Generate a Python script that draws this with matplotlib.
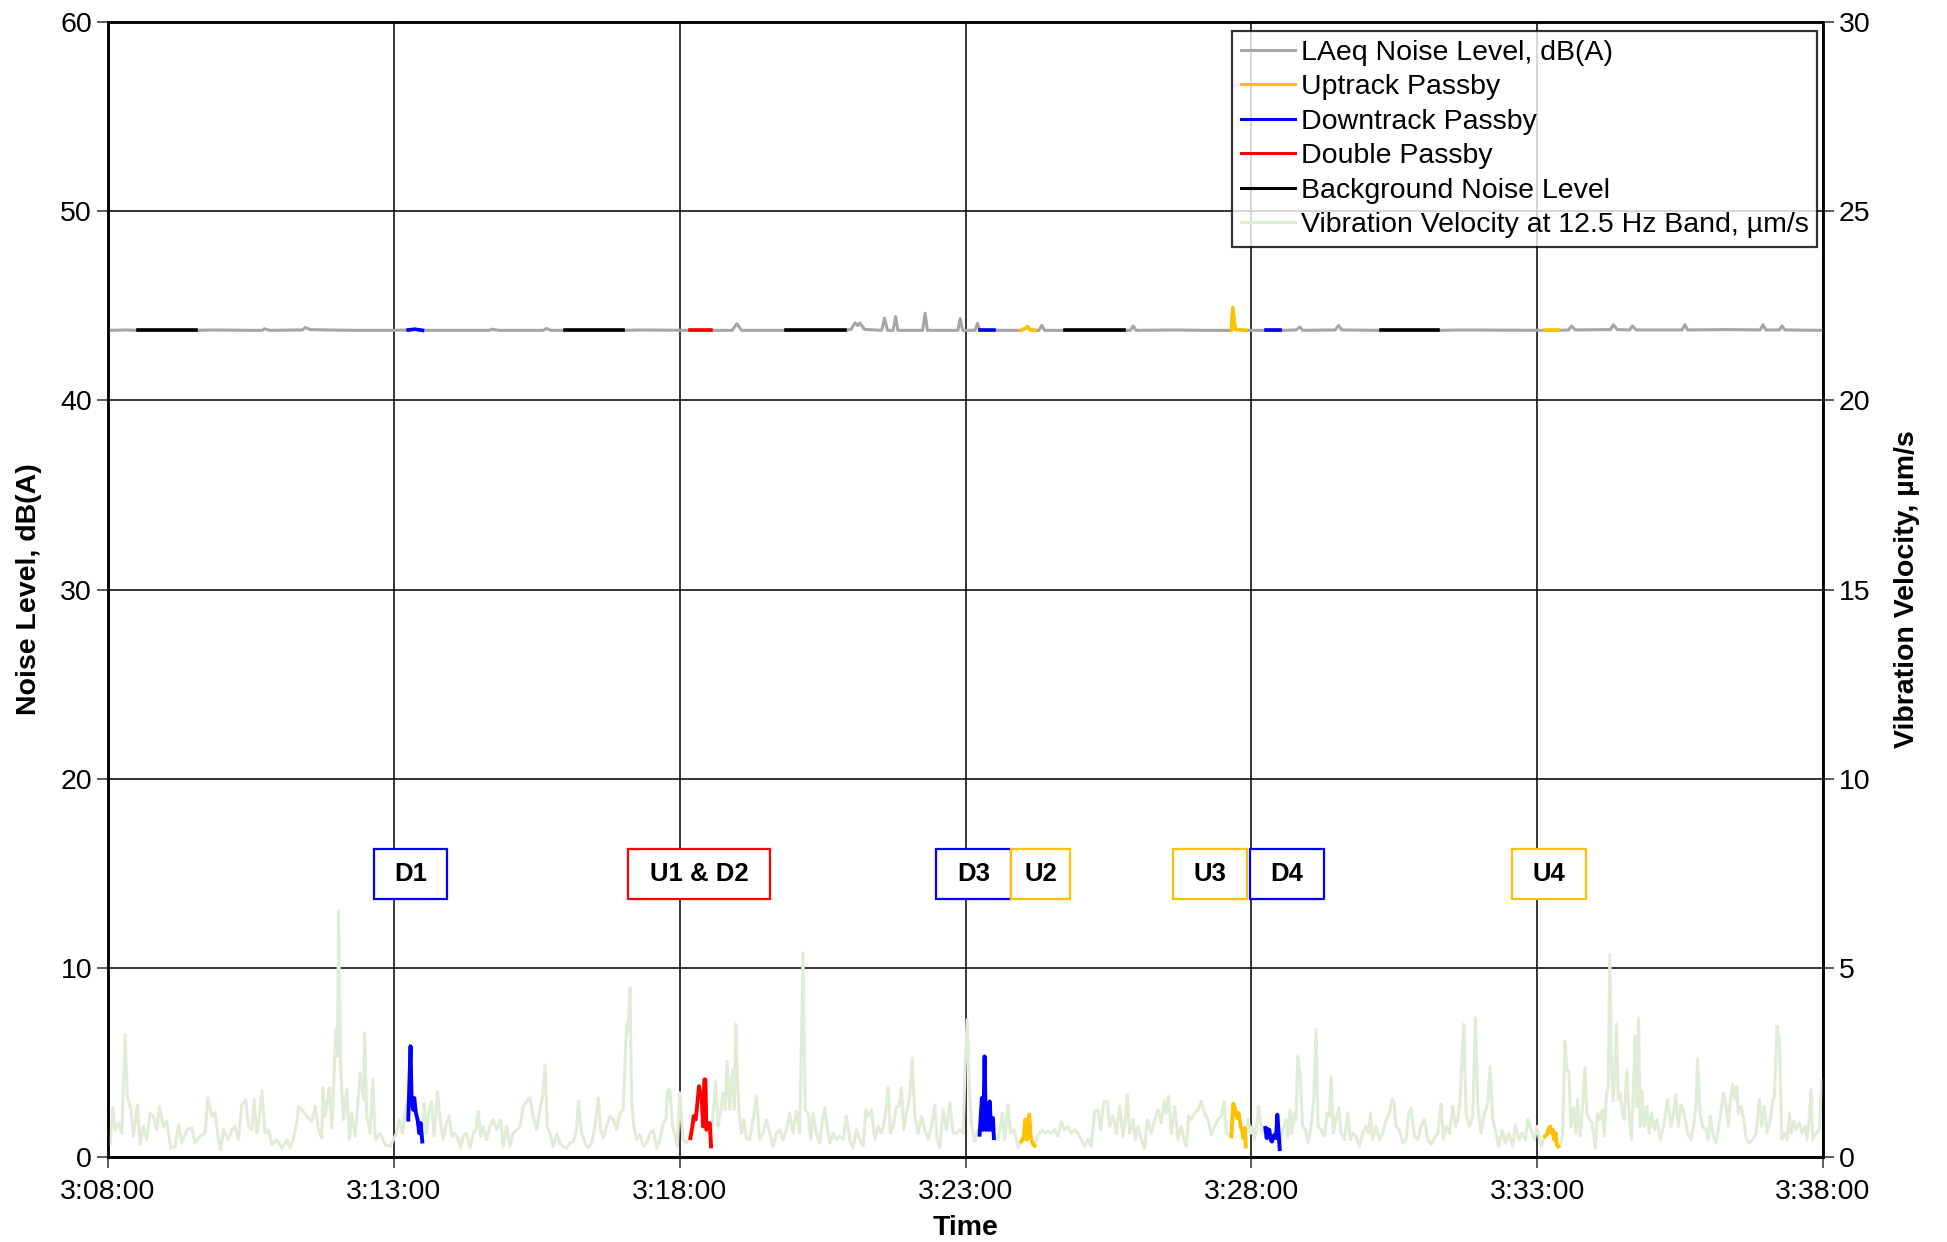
import numpy as np
import matplotlib.pyplot as plt
from matplotlib.patches import Rectangle
from matplotlib.lines import Line2D
from matplotlib.ticker import FuncFormatter, MultipleLocator

plt.rcParams['font.family'] = ['Liberation Sans', 'DejaVu Sans']

# time is in seconds after 3:08:00
START = 3 * 3600 + 8 * 60

# LAeq noise level, dB(A): (sec, dB)
noise_pts = [
    (0, 43.7), (20, 43.72), (31, 43.7), (92, 43.7), (110, 43.72), (150, 43.7), (162, 43.7),
    (164, 43.78), (170, 43.7), (200, 43.72), (204, 43.72), (207, 43.85), (212, 43.74), (230, 43.72),
    (260, 43.7), (300, 43.7), (315, 43.72), (322, 43.76), (330, 43.7), (380, 43.7), (400, 43.7),
    (403, 43.76), (410, 43.7), (457, 43.7), (460, 43.8), (465, 43.7), (480, 43.7), (541, 43.7),
    (560, 43.72), (611, 43.7), (633, 43.7), (655, 43.7), (660, 44.05), (665, 43.7), (712, 43.7),
    (773, 43.7), (780, 43.75), (784, 44.1), (787, 43.95), (789, 44.1), (794, 43.75), (812, 43.7),
    (815, 44.34), (818, 43.7), (824, 43.7), (826.6, 44.43), (829, 43.7), (855, 43.7), (857.6, 44.6),
    (860, 43.7), (892, 43.7), (894.4, 44.32), (897, 43.7), (910, 43.7), (912.6, 44.07), (915, 43.7),
    (930, 43.7), (958, 43.7), (963, 43.8), (965, 43.9), (968, 43.72), (973, 43.7), (977, 43.7),
    (980, 43.96), (983, 43.7), (1004, 43.7), (1066, 43.7), (1073, 43.7), (1076, 43.93), (1079, 43.7),
    (1120, 43.72), (1150, 43.7), (1179, 43.7), (1180.5, 44.9), (1183, 43.75), (1194, 43.7),
    (1215, 43.7), (1230, 43.7), (1247, 43.72), (1250.8, 43.88), (1254, 43.7), (1288, 43.72),
    (1291.6, 43.96), (1295, 43.72), (1336, 43.7), (1396, 43.7), (1420, 43.72), (1508, 43.7),
    (1522, 43.7), (1533, 43.72), (1536, 43.93), (1540, 43.72), (1577, 43.74), (1580, 44.0),
    (1584, 43.74), (1597, 43.72), (1600, 43.93), (1604, 43.72), (1652, 43.72), (1655, 44.0),
    (1658, 43.72), (1700, 43.74), (1734, 43.72), (1737, 44.0), (1740, 43.72), (1754, 43.72),
    (1757, 43.93), (1760, 43.72), (1800, 43.7),
]

# vibration velocity at 12.5 Hz band, um/s: (sec, value), one list per 5 minutes
vib_0308 = [
    (0, 0.33), (2.1, 0.33), (4.9, 1.30), (7.4, 0.72), (10.9, 0.90), (14.4, 0.63), (17.9, 3.24),
    (20.3, 1.60), (23.8, 1.30), (26.6, 0.55), (30.8, 1.38), (33.6, 0.33), (37.1, 0.81), (40.6, 0.46),
    (44.1, 1.16), (47.6, 1.08), (51.1, 0.72), (53.9, 1.34), (58.1, 0.81), (61.6, 0.94), (65.8, 0.24),
    (70.4, 0.28), (73.9, 0.86), (77.4, 0.37), (82.6, 0.72), (87.9, 0.77), (91.4, 0.37), (96.6, 0.55),
    (101.9, 0.63), (104.7, 1.56), (108.9, 1.08), (112.4, 1.16), (115.9, 0.46), (118.3, 0.19),
    (121.1, 0.72), (126.4, 0.46), (129.9, 0.72), (133.4, 0.81), (136.9, 0.46), (140.4, 1.38),
    (144.6, 1.52), (147.4, 0.81), (150.9, 0.72), (153.3, 1.52), (156.1, 0.63), (158.9, 1.08),
    (161.4, 1.76), (164.9, 0.63), (168.4, 0.72), (171.9, 0.33), (177.1, 0.46), (182.4, 0.24),
    (187.6, 0.46), (191.1, 0.24), (194.6, 0.50), (198.1, 0.90), (199.9, 1.34), (203.4, 1.25),
    (208.6, 1.08), (213.9, 0.94), (217.4, 1.34), (220.9, 0.72), (224.4, 0.50), (225.4, 1.83),
    (227.9, 1.08), (232.1, 1.83), (234.9, 0.77), (239.1, 3.37), (240.8, 2.66), (241.9, 6.50),
    (244.3, 2.22), (247.1, 0.99), (250.6, 1.78), (253.4, 0.46), (255.9, 1.16), (259.4, 0.55),
    (264.6, 2.22), (268.1, 1.52), (269.2, 3.28), (271.6, 1.08), (275.1, 0.63), (277.9, 2.05),
    (280.4, 0.46), (285.6, 0.63), (290.9, 0.33), (296.1, 0.28), (299.6, 0.46),
]
vib_0313 = [
    (302.8, 0.63), (305.6, 0.99), (309.1, 0.63), (313.3, 1.38), (315.1, 0.99), (317.5, 2.93),
    (318.6, 1.52), (320.3, 1.25), (321.4, 1.56), (323.1, 1.16), (324.9, 0.99), (326.6, 0.63),
    (328.0, 0.90), (329.8, 0.41), (331.9, 1.43), (334.3, 0.63), (336.8, 1.25), (339.6, 1.47),
    (342.0, 0.55), (345.9, 1.74), (348.3, 0.99), (351.8, 0.46), (354.6, 0.86), (358.1, 1.08),
    (360.9, 0.55), (364.1, 0.63), (367.6, 0.46), (370.0, 0.24), (372.8, 0.55), (376.3, 0.63),
    (379.8, 0.24), (383.3, 0.63), (386.1, 0.72), (388.6, 1.21), (391.0, 0.55), (393.8, 0.81),
    (397.3, 0.46), (400.8, 0.81), (404.3, 0.99), (407.8, 0.72), (412.0, 0.99), (414.8, 0.28),
    (418.3, 0.81), (421.8, 0.28), (425.3, 0.63), (429.5, 0.72), (432.3, 0.81), (435.8, 1.34),
    (439.3, 1.47), (442.8, 1.56), (446.3, 1.08), (449.8, 0.72), (453.3, 1.25), (456.1, 1.60),
    (458.6, 2.44), (461.0, 0.81), (463.8, 0.63), (467.3, 0.28), (470.8, 0.63), (474.3, 0.37),
    (477.8, 0.28), (481.3, 0.24), (484.8, 0.37), (488.3, 0.41), (491.8, 0.72), (493.6, 1.47),
    (497.1, 0.63), (500.6, 0.37), (504.1, 0.24), (507.6, 0.37), (511.1, 0.81), (514.6, 1.56),
    (517.0, 0.72), (519.8, 0.50), (523.3, 0.81), (526.8, 1.08), (530.3, 0.99), (533.8, 0.72),
    (537.3, 1.16), (540.8, 1.25), (544.3, 3.51), (545.7, 3.28), (547.8, 4.47), (549.6, 1.43),
    (552.0, 0.81), (554.8, 0.46), (558.3, 0.59), (561.8, 0.28), (565.3, 0.37), (568.8, 0.63),
    (572.3, 0.72), (575.8, 0.24), (579.3, 0.46), (582.8, 0.90), (585.6, 0.99), (587.4, 1.78),
    (589.8, 1.78), (592.6, 0.81), (595.1, 0.55), (597.5, 0.28),
]
vib_0318 = [
    (600.0, 1.70), (603.5, 0.46), (607.0, 0.37), (611.2, 0.50), (613.3, 0.81), (614.7, 1.08),
    (616.8, 0.99), (618.2, 1.34), (620.3, 1.87), (621.7, 1.69), (623.1, 1.60), (624.5, 0.81),
    (625.9, 2.05), (627.0, 2.05), (628.0, 0.72), (629.8, 0.81), (631.5, 0.90), (632.9, 0.28),
    (635.0, 1.16), (637.8, 1.99), (640.3, 0.81), (642.7, 1.16), (645.5, 1.69), (647.9, 1.25),
    (649.7, 2.53), (652.5, 1.25), (654.6, 2.05), (656.0, 2.31), (657.4, 1.25), (658.8, 3.51),
    (660.2, 2.31), (662.3, 1.16), (664.8, 0.63), (667.2, 0.99), (670.0, 0.50), (673.5, 0.46),
    (677.0, 0.99), (680.5, 1.60), (684.0, 0.46), (687.5, 0.63), (691.0, 0.99), (694.5, 0.63),
    (698.0, 0.28), (701.5, 0.63), (705.0, 0.72), (708.5, 0.46), (712.0, 0.72), (715.5, 1.16),
    (719.0, 0.63), (722.5, 1.21), (726.0, 0.63), (729.5, 5.40), (731.6, 1.25), (734.8, 1.16),
    (737.6, 0.46), (740.0, 1.16), (743.5, 0.63), (747.0, 0.37), (749.8, 0.99), (752.3, 1.30),
    (754.7, 0.81), (757.5, 0.37), (761.0, 0.63), (764.5, 0.46), (768.0, 0.55), (771.5, 0.46),
    (775.0, 1.08), (778.5, 0.46), (782.0, 0.24), (785.5, 0.72), (789.0, 0.46), (792.5, 0.28),
    (795.3, 1.25), (797.8, 1.08), (801.3, 1.25), (804.8, 0.46), (808.3, 0.81), (811.8, 0.63),
    (815.3, 0.99), (818.8, 1.83), (821.2, 0.63), (824.0, 0.81), (827.5, 1.34), (830.3, 1.34),
    (832.8, 1.83), (835.2, 0.72), (838.0, 1.16), (841.5, 1.60), (844.0, 2.62), (846.8, 1.08),
    (850.3, 0.63), (853.8, 1.08), (857.3, 0.72), (860.8, 0.46), (864.3, 0.81), (867.8, 1.38),
    (870.2, 0.46), (873.0, 0.24), (876.5, 1.25), (880.0, 0.72), (883.5, 1.43), (887.0, 0.63),
    (890.5, 0.63), (894.0, 0.72), (897.5, 0.63), (899.6, 2.40),
]
vib_0323 = [
    (901.7, 3.63), (904.3, 1.69), (906.0, 0.90), (909.5, 0.41), (913.0, 0.72), (914.8, 0.59),
    (917.2, 1.56), (918.6, 0.72), (920.0, 2.66), (921.4, 0.72), (922.8, 1.08), (924.2, 0.72),
    (925.3, 1.47), (927.0, 0.72), (928.8, 1.03), (929.8, 0.50), (934.0, 0.46), (936.8, 0.81),
    (938.6, 1.16), (941.0, 0.46), (944.5, 1.38), (947.3, 0.63), (950.8, 0.72), (953.3, 0.46),
    (955.0, 0.24), (958.5, 0.41), (961.3, 0.55), (962.7, 0.99), (964.1, 0.46), (965.5, 0.81),
    (966.9, 1.12), (968.3, 0.55), (970.1, 0.37), (972.5, 0.30), (975.3, 0.55), (977.8, 0.63),
    (980.2, 0.72), (983.0, 0.63), (986.5, 0.68), (990.0, 0.63), (993.5, 0.72), (997.0, 0.55),
    (1000.5, 0.94), (1004.0, 0.72), (1007.5, 0.81), (1011.0, 0.63), (1014.5, 0.72), (1018.0, 0.63),
    (1021.5, 0.46), (1025.0, 0.28), (1028.5, 0.46), (1032.0, 0.28), (1035.5, 1.21), (1039.0, 1.25),
    (1041.8, 0.72), (1045.3, 1.47), (1048.8, 1.47), (1051.3, 0.81), (1054.8, 1.08), (1058.3, 0.63),
    (1061.8, 1.34), (1065.3, 0.55), (1067.7, 0.99), (1069.8, 1.65), (1072.3, 0.63), (1075.8, 0.99),
    (1078.2, 0.46), (1081.0, 0.81), (1084.5, 0.46), (1088.0, 0.24), (1090.8, 0.99), (1095.0, 0.63),
    (1098.5, 0.99), (1102.0, 1.25), (1105.5, 0.90), (1108.3, 1.47), (1110.8, 1.16), (1113.2, 1.60),
    (1116.0, 0.63), (1119.5, 1.34), (1123.0, 0.46), (1126.5, 0.81), (1129.3, 0.46), (1131.8, 0.28),
    (1134.2, 1.08), (1137.0, 0.99), (1140.5, 1.16), (1144.0, 1.25), (1147.5, 1.47), (1151.0, 1.16),
    (1154.5, 0.99), (1158.0, 0.59), (1161.5, 0.81), (1165.0, 0.99), (1168.5, 1.08), (1171.3, 1.47),
    (1173.8, 0.63), (1179.0, 0.55), (1181.1, 1.41), (1183.2, 1.25), (1185.3, 1.03), (1186.7, 1.16),
    (1188.8, 0.81), (1190.2, 0.72), (1191.6, 0.50), (1193.0, 0.77), (1194.1, 0.28), (1196.5, 0.99),
    (1199.3, 0.63),
]
vib_0328 = [
    (1201.4, 0.81), (1203.2, 0.46), (1205.6, 0.81), (1207.7, 1.34), (1210.2, 0.81), (1211.9, 0.63),
    (1214.7, 0.77), (1216.1, 0.50), (1217.5, 0.74), (1218.9, 0.72), (1220.3, 0.46), (1221.7, 0.41),
    (1223.1, 0.55), (1224.5, 0.59), (1225.9, 0.50), (1227.3, 1.12), (1228.7, 0.63), (1229.8, 0.21),
    (1232.9, 0.72), (1236.4, 0.99), (1238.2, 0.50), (1240.6, 1.25), (1242.7, 0.63), (1245.2, 1.16),
    (1246.9, 0.99), (1248.7, 2.66), (1251.1, 2.22), (1253.9, 0.81), (1256.7, 0.72), (1259.5, 0.37),
    (1262.7, 0.81), (1265.5, 1.52), (1267.9, 3.37), (1270.0, 0.81), (1273.2, 0.72), (1276.7, 0.55),
    (1279.5, 1.16), (1281.9, 1.08), (1283.7, 2.13), (1286.1, 0.63), (1288.9, 0.99), (1291.7, 1.30),
    (1294.2, 0.63), (1297.7, 0.46), (1301.2, 1.16), (1303.9, 0.46), (1307.1, 0.63), (1309.9, 0.55),
    (1313.4, 0.28), (1316.9, 0.63), (1320.4, 0.81), (1323.2, 0.63), (1325.0, 1.16), (1327.4, 0.46),
    (1330.9, 0.81), (1334.4, 0.46), (1337.9, 0.63), (1341.4, 0.99), (1344.9, 1.16), (1347.7, 1.52),
    (1349.8, 1.43), (1351.9, 0.81), (1355.4, 0.72), (1358.9, 0.37), (1362.4, 0.46), (1365.2, 1.16),
    (1367.7, 1.30), (1371.2, 0.55), (1374.7, 0.46), (1378.2, 0.81), (1381.7, 0.99), (1385.2, 0.46),
    (1388.7, 0.33), (1392.2, 0.50), (1395.7, 0.63), (1399.2, 1.41), (1401.6, 0.46), (1404.4, 0.81),
    (1407.9, 0.63), (1411.4, 1.34), (1414.2, 0.81), (1416.7, 0.99), (1419.1, 1.47), (1421.2, 2.66),
    (1423.0, 3.51), (1425.4, 1.16), (1428.9, 0.81), (1432.4, 1.08), (1435.2, 3.68), (1437.7, 1.34),
    (1441.2, 0.63), (1444.7, 1.16), (1448.2, 1.43), (1450.6, 2.40), (1453.4, 0.99), (1456.9, 0.63),
    (1459.7, 0.28), (1463.2, 0.72), (1466.7, 0.37), (1470.2, 0.63), (1474.4, 0.28), (1477.2, 0.86),
    (1480.7, 0.46), (1484.2, 0.63), (1487.7, 0.46), (1490.1, 0.99), (1493.6, 0.72), (1497.1, 0.46),
]
vib_0333 = [
    (1499.7, 0.81), (1502.2, 0.50), (1504.6, 0.28), (1506.7, 0.46), (1508.1, 0.55), (1510.2, 0.59),
    (1511.6, 0.72), (1513.7, 0.81), (1515.1, 0.63), (1516.5, 0.72), (1517.9, 0.46), (1519.3, 0.63),
    (1520.7, 0.33), (1522.1, 0.28), (1524.2, 0.28), (1526.7, 0.59), (1529.1, 3.06), (1531.2, 2.31),
    (1533.3, 2.27), (1535.4, 0.81), (1538.2, 1.30), (1540.7, 0.63), (1542.4, 1.52), (1545.2, 0.55),
    (1547.7, 1.34), (1550.1, 2.35), (1552.2, 1.16), (1554.6, 0.99), (1557.1, 0.94), (1559.2, 0.63),
    (1560.9, 0.24), (1563.4, 1.16), (1565.8, 0.99), (1568.6, 1.25), (1570.4, 0.55), (1572.8, 1.69),
    (1574.6, 1.87), (1576.3, 5.35), (1578.1, 2.40), (1579.8, 1.47), (1581.9, 2.47), (1583.3, 3.51),
    (1585.0, 1.52), (1587.1, 1.69), (1589.6, 1.16), (1591.3, 0.99), (1594.1, 2.31), (1596.6, 1.08),
    (1599.0, 0.46), (1601.1, 1.87), (1602.9, 3.19), (1604.6, 1.34), (1606.4, 3.68), (1608.1, 0.81),
    (1609.9, 1.74), (1612.4, 0.81), (1615.2, 1.34), (1617.6, 0.63), (1620.1, 1.16), (1622.9, 0.72),
    (1625.7, 0.99), (1629.2, 0.46), (1632.7, 0.81), (1636.9, 1.52), (1640.4, 0.81), (1643.2, 1.16),
    (1645.6, 1.65), (1648.1, 0.81), (1650.9, 1.38), (1654.4, 1.16), (1657.9, 0.63), (1661.4, 0.46),
    (1664.2, 0.81), (1666.7, 1.34), (1668.4, 2.62), (1670.9, 1.16), (1673.7, 0.81), (1677.2, 0.72),
    (1679.6, 0.46), (1681.7, 1.08), (1684.2, 0.63), (1687.7, 0.37), (1690.1, 0.72), (1693.6, 1.34),
    (1695.7, 1.69), (1698.2, 1.34), (1700.7, 0.81), (1702.8, 1.52), (1705.2, 1.92), (1707.0, 1.52),
    (1709.4, 1.87), (1711.2, 1.16), (1714.0, 1.34), (1716.8, 0.99), (1719.3, 0.50), (1722.8, 0.37),
    (1726.3, 0.46), (1729.8, 0.63), (1733.3, 1.52), (1735.7, 0.81), (1738.5, 1.34), (1741.3, 0.63),
    (1744.8, 0.99), (1747.3, 1.52), (1749.0, 1.56), (1751.8, 3.46), (1754.3, 3.10), (1756.7, 0.46),
    (1759.5, 0.63), (1762.3, 0.46), (1764.8, 1.16), (1766.5, 0.63), (1769.3, 0.94), (1771.8, 0.72),
    (1775.3, 0.90), (1778.1, 0.63), (1781.2, 0.81), (1783.3, 0.46), (1785.4, 0.99), (1787.6, 1.78),
    (1789.3, 0.46), (1792.8, 0.63), (1796.3, 0.72), (1798.8, 2.05), (1800.0, 2.05),
]

# background noise measurement windows (sec)
background_windows = [(31, 92), (480, 541), (712, 773), (1004, 1066), (1336, 1396)]

# train passby windows (kind, start sec, end sec)
passby_windows = [
    ('down', 315, 330), ('double', 611, 633), ('down', 914.5, 930), ('up', 958, 973),
    ('up', 1178.5, 1194.5), ('down', 1214.5, 1230), ('up', 1507.5, 1522.5),
]

# event labels: text, kind, box span in sec
label_names = ['D1', 'U1 & D2', 'D3', 'U2', 'U3', 'D4', 'U4']
label_kinds = ['down', 'double', 'down', 'up', 'up', 'down', 'up']
label_spans = [(279, 356), (546, 695), (869, 948), (948, 1010), (1118, 1195), (1199, 1276), (1474, 1551)]

kind_colors = {'up': '#FFC000', 'down': '#0000FF', 'double': '#FF0000'}
GRAY = '#A6A6A6'
GREEN = '#E0EDD6'

noise = np.array(noise_pts)
vib = np.array(vib_0308 + vib_0313 + vib_0318 + vib_0323 + vib_0328 + vib_0333)


def window(arr, a, b):
    m = (arr[:, 0] >= a) & (arr[:, 0] <= b)
    return arr[m, 0], arr[m, 1]


fig, ax = plt.subplots(figsize=(19.47, 12.42), dpi=100)
fig.subplots_adjust(left=0.0555, right=0.9363, top=0.9823, bottom=0.0684)
ax2 = ax.twinx()

# noise on the left axis
ax.plot(noise[:, 0], noise[:, 1], color=GRAY, lw=2.2, zorder=3)
for a, b in background_windows:
    x, y = window(noise, a, b)
    ax.plot(x, y, color='black', lw=2.6, zorder=4)
for kind, a, b in passby_windows:
    x, y = window(noise, a, b)
    ax.plot(x, y, color=kind_colors[kind], lw=2.6, zorder=4)

# vibration on the right axis
ax2.plot(vib[:, 0], vib[:, 1], color=GREEN, lw=2.2, zorder=2)
for kind, a, b in passby_windows:
    x, y = window(vib, a, b)
    ax2.plot(x, y, color=kind_colors[kind], lw=2.8, zorder=3)

# axes
ax.set_xlim(0, 1800)
ax.set_ylim(0, 60)
ax2.set_ylim(0, 30)
ax.xaxis.set_major_locator(MultipleLocator(300))
ax.yaxis.set_major_locator(MultipleLocator(10))
ax2.yaxis.set_major_locator(MultipleLocator(5))


def fmt_time(t, pos):
    s = START + int(round(t))
    return f"{s // 3600}:{(s % 3600) // 60:02d}:{s % 60:02d}"


ax.xaxis.set_major_formatter(FuncFormatter(fmt_time))
ax.grid(True, color='black', lw=1.1)
ax.set_axisbelow(True)
for a in (ax, ax2):
    a.tick_params(labelsize=20.5, direction='out', length=8, width=1.2, color='#404040')
    for sp in a.spines.values():
        sp.set_linewidth(1.8)
        sp.set_color('black')
ax.tick_params(axis='x', pad=8)

ax.set_xlabel('Time', fontsize=20.5, fontweight='bold', labelpad=7)
ax.set_ylabel('Noise Level, dB(A)', fontsize=20.5, fontweight='bold', labelpad=13)
ax2.set_ylabel('Vibration Velocity, µm/s', fontsize=20.5, fontweight='bold', labelpad=17)

# event label boxes (drawn in noise-level units)
box_lo, box_hi = 13.65, 16.28
for name, kind, (a, b) in zip(label_names, label_kinds, label_spans):
    ax2.add_patch(Rectangle((a, box_lo), b - a, box_hi - box_lo, transform=ax.transData,
                            facecolor='white', edgecolor=kind_colors[kind], lw=1.6, zorder=6))
    ax2.text((a + b) / 2, (box_lo + box_hi) / 2, name, transform=ax.transData,
             ha='center', va='center', fontsize=18.5, fontweight='bold', zorder=7)

handles = [
    Line2D([], [], color=GRAY, lw=2.2),
    Line2D([], [], color=kind_colors['up'], lw=2.2),
    Line2D([], [], color=kind_colors['down'], lw=2.2),
    Line2D([], [], color=kind_colors['double'], lw=2.2),
    Line2D([], [], color='black', lw=2.2),
    Line2D([], [], color=GREEN, lw=2.2),
]
labels = ['LAeq Noise Level, dB(A)', 'Uptrack Passby', 'Downtrack Passby', 'Double Passby',
          'Background Noise Level', 'Vibration Velocity at 12.5 Hz Band, µm/s']
leg = ax2.legend(handles, labels, loc='upper right', bbox_to_anchor=(0.9965, 0.992),
                 borderaxespad=0, fontsize=20.5, frameon=True, fancybox=False,
                 handlelength=1.9, handletextpad=0.2, labelspacing=0.30, borderpad=0.3)
leg.get_frame().set_edgecolor('black')
leg.get_frame().set_linewidth(1.6)
leg.set_zorder(10)

fig.savefig('out.png', dpi=100)
